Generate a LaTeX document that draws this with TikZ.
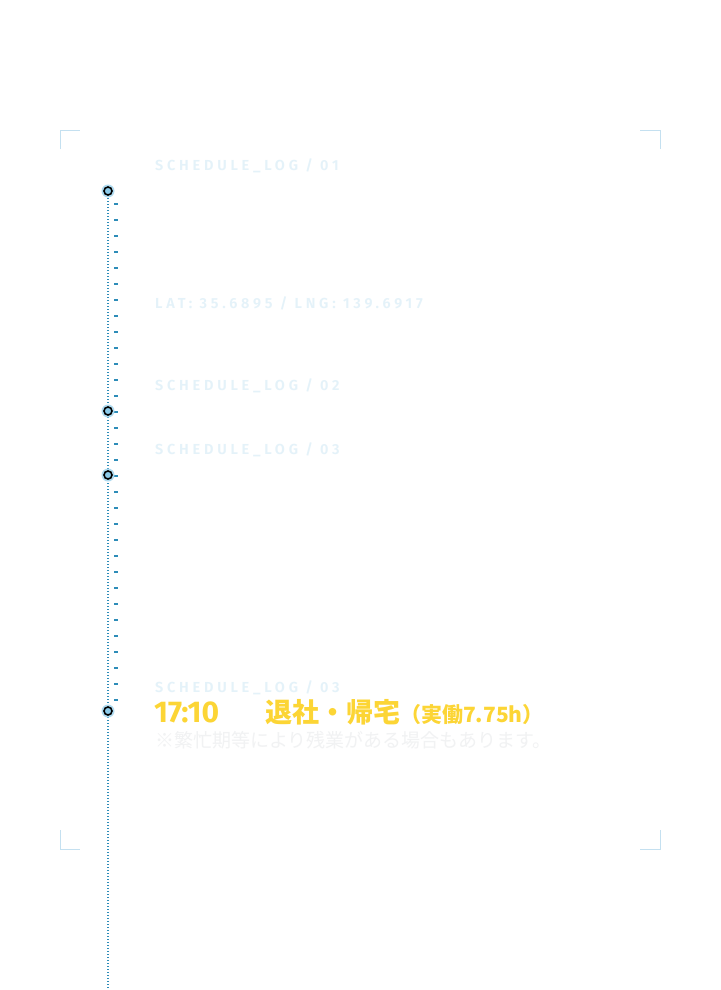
\documentclass[tikz,border=0pt]{standalone}
\usepackage{fontspec}
\setmainfont{Fira Sans}
\newfontfamily\cjk{Noto Sans CJK JP}
\newfontfamily\logf[LetterSpace=26]{Fira Sans SemiBold}
\begin{document}
\begin{tikzpicture}[x=1pt,y=-1pt,
 logtxt/.style={anchor=base west,inner sep=0,text=faint,font=\logf\fontsize{14.5}{14.5}\selectfont},
 corner/.style={draw=cornerc,line width=0.8pt},
 dot/.style={circle,draw=black,line width=1.6pt,fill=dotfill,minimum size=8pt,inner sep=0},
 halo/.style={circle,fill=dotfill!70,minimum size=13pt,inner sep=0}]
\definecolor{faint}{HTML}{E4F2F9}
\definecolor{cornerc}{HTML}{C4E0F0}
\definecolor{dotfill}{HTML}{8CCBEA}
\definecolor{linec}{HTML}{2D8CB8}
\definecolor{gold}{HTML}{FCD535}
\definecolor{note}{HTML}{F1F2F3}
\path[use as bounding box] (0,0) rectangle (720,990);
\fill[white] (0,0) rectangle (720,990);
% corners
\draw[corner] (60,149) -- (60,130) -- (80,130);
\draw[corner] (640,130) -- (660,130) -- (660,149);
\draw[corner] (60,830) -- (60,849) -- (80,849);
\draw[corner] (640,849) -- (660,849) -- (660,830);
% timeline
\coordinate (top) at (108,192);
\coordinate (bot) at (108,990);
\draw[linec,line width=1.2pt,dash pattern=on 1.2pt off 1.8pt] (top) -- (bot);
\foreach \i in {0,...,31}{\draw[linec,line width=1.5pt] (114,204+16*\i) -- (118,204+16*\i);}
\foreach \n/\y in {d1/191,d2/411,d3/475,d4/711}{
 \node[halo] at (108,\y) {};
 \node[dot] (\n) at (108,\y) {};}
% texts
\node[logtxt] (l1) at (155,170) {SCHEDULE\_LOG / 01};
\node[logtxt] (lat) at (155,308) {LAT: 35.6895 / LNG: 139.6917};
\node[logtxt] (l2) at (155,390) {SCHEDULE\_LOG / 02};
\node[logtxt] (l3) at (155,454) {SCHEDULE\_LOG / 03};
\node[logtxt] (l4) at (155,692) {SCHEDULE\_LOG / 03};
\node[anchor=base west,inner sep=0,text=gold,font=\bfseries\fontsize{30}{30}\selectfont] (t) at (154,722) {17:10};
\node[anchor=base west,inner sep=0,text=gold,font=\cjk\bfseries\fontsize{27}{27}\selectfont] (ev) at (265,722) {退社・帰宅\fontsize{21}{21}\selectfont（実働7.75h）};
\node[anchor=base west,inner sep=0,text=note,font=\cjk\fontsize{19}{19}\selectfont] (nt) at (155,747) {※繁忙期等により残業がある場合もあります。};
\end{tikzpicture}
\end{document}
